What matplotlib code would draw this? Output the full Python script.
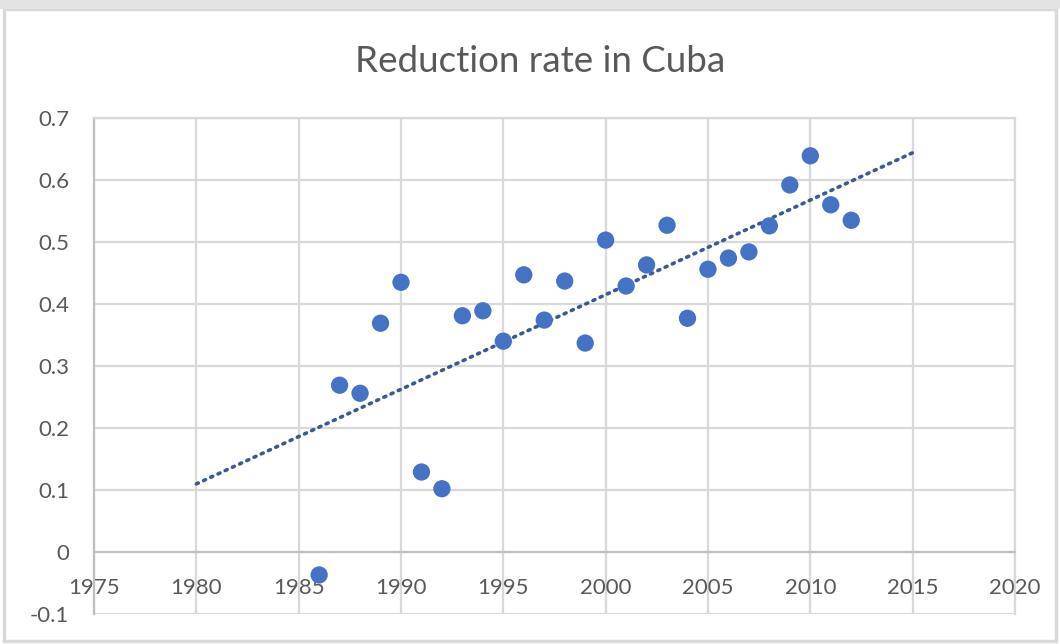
import numpy as np
import matplotlib.pyplot as plt
from matplotlib.patches import Rectangle
from matplotlib.ticker import FixedLocator, FuncFormatter

plt.rcParams['font.family'] = ['Lato', 'DejaVu Sans']

# Reduction rate by year
years = [1986, 1987, 1988, 1989, 1990, 1991, 1992, 1993, 1994, 1995,
         1996, 1997, 1998, 1999, 2000, 2001, 2002, 2003, 2004, 2005,
         2006, 2007, 2008, 2009, 2010, 2011, 2012]
rates = [-0.037, 0.269, 0.256, 0.369, 0.435, 0.129, 0.102, 0.381, 0.389, 0.340,
         0.447, 0.374, 0.437, 0.337, 0.503, 0.429, 0.463, 0.527, 0.377, 0.456,
         0.474, 0.484, 0.526, 0.592, 0.639, 0.560, 0.535]

x_ticks = [1975, 1980, 1985, 1990, 1995, 2000, 2005, 2010, 2015, 2020]
y_ticks = [-0.1, 0, 0.1, 0.2, 0.3, 0.4, 0.5, 0.6, 0.7]
trend_span = [1980, 2015]

title = "Reduction rate in Cuba"

text_color = "#595959"
grid_color = "#D9D9D9"
axis_color = "#BFBFBF"
point_color = "#4472C4"
trend_color = "#3B5A95"

fig = plt.figure(figsize=(10.6, 6.44), dpi=100)
fig.patch.set_facecolor("white")
fig.add_artist(Rectangle((0.004, 0.004), 0.992, 0.982, transform=fig.transFigure,
                         fill=False, edgecolor=grid_color, linewidth=2.5))
fig.add_artist(Rectangle((0.0, 0.986), 1.0, 0.014, transform=fig.transFigure,
                         facecolor="#E3E3E3", edgecolor="none"))

ax = fig.add_axes([0.0887, 0.0466, 0.8688, 0.7702])
ax.set_xlim(x_ticks[0], x_ticks[-1])
ax.set_ylim(y_ticks[0], y_ticks[-1])

ax.xaxis.set_major_locator(FixedLocator(x_ticks))
ax.yaxis.set_major_locator(FixedLocator(y_ticks))
ax.yaxis.set_major_formatter(FuncFormatter(lambda v, p: f"{v:g}"))
ax.grid(True, color=grid_color, linewidth=1.6, zorder=0)
ax.set_axisbelow(True)

for side in ("top", "right"):
    ax.spines[side].set_color(grid_color)
    ax.spines[side].set_linewidth(1.6)
ax.spines["left"].set_color(axis_color)
ax.spines["left"].set_linewidth(1.6)
ax.spines["bottom"].set_color(axis_color)
ax.spines["bottom"].set_linewidth(1.6)
ax.spines["bottom"].set_position(("data", 0))

ax.tick_params(axis="both", length=0, labelsize=16, labelcolor=text_color)
ax.tick_params(axis="x", pad=19)
ax.tick_params(axis="y", pad=18)

# Linear trendline fitted to the series, extended over the forecast span
coef = np.polyfit(years, rates, 1)
tx = np.array(trend_span, dtype=float)
ax.plot(tx, np.polyval(coef, tx), linestyle=(0, (0.6, 1.6)), color=trend_color,
        linewidth=2.6, dash_capstyle="round", zorder=2)

ax.scatter(years, rates, s=155, color=point_color, edgecolors="none", zorder=3,
           clip_on=False)

fig.text(0.51, 0.888, title, ha="center", va="baseline", fontsize=26.5, color=text_color)

fig.savefig("out.png", dpi=100)
